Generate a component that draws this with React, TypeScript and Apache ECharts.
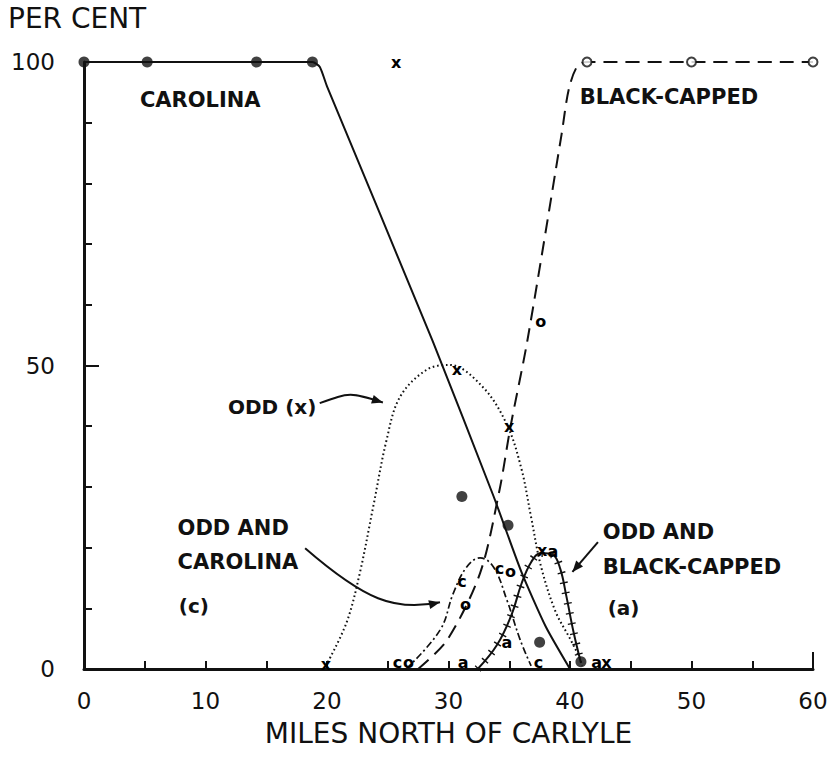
import React, { useEffect, useRef } from 'react';
import * as echarts from 'echarts';

// ---- tick labels ----
const xTickLabels = ['0', '10', '20', '30', '40', '50', '60'];
const yTickLabels = ['0', '50', '100'];

// ---- Carolina (solid line, filled dots) ----
const carolinaDots = [[0, 100], [5.2, 100], [14.2, 100], [18.8, 100], [31.1, 28.4], [34.9, 23.7], [37.5, 4.4], [40.9, 1.2]];
const carolinaCurve = [[0, 100], [18.8, 100], [19.4, 99.2], [20, 96], [28.7, 54], [33.7, 28.5], [36, 16], [38, 7], [40, 0]];

// ---- Black-capped (dashed line, open circles) ----
const blackCappedCircles = [[41.4, 100], [50, 100], [60, 100]];
const blackCappedCurve = [[27.5, 0], [29.9, 4.8], [32.6, 15.8], [34.2, 29.5], [35.1, 39.9], [36.5, 54.2], [39.3, 88], [39.9, 95.5], [40.6, 99.3], [41.4, 100], [50, 100], [60, 100]];

// ---- Odd (x), dotted ----
const oddCurve = [[19.9, 0.5], [21.6, 7.6], [22.7, 15.8], [23.8, 26.7], [24.9, 37.7], [26, 44.8], [28.2, 49.3], [30.1, 50.1], [32.8, 46.5], [34.8, 40.3], [36, 33], [36.8, 25], [37.6, 17], [38.8, 9.5], [40, 5], [40.8, 1.8], [41, 0.5]];
const oddPoints = [[25.7, 100], [19.9, 0.8], [30.7, 49.4], [35.0, 39.9], [37.7, 19.5], [43.0, 1]];

// ---- Odd and Carolina (c), dash-dot ----
const oddCarolinaCurve = [[26.5, 0], [29.3, 6.4], [30.4, 12.5], [31.5, 16.8], [32.6, 18.3], [33.7, 16.8], [34.8, 11.4], [35.9, 4.8], [36.8, 0.5]];
const oddCarolinaPoints = [[31.1, 14.4], [34.2, 16.6], [25.8, 1], [37.4, 1]];

// ---- Black-capped letters (o) ----
const blackCappedLetterPoints = [[31.4, 10.6], [35.1, 16], [26.7, 1], [37.6, 57.2]];

// ---- Odd and Black-capped (a), hatched solid ----
const oddBlackCappedCurve = [[32.4, 0], [34, 4], [35.2, 9], [36, 14], [36.8, 17.6], [37.6, 19.1], [38.6, 18.8], [39.2, 16.5], [39.7, 12], [40.3, 6], [40.9, 1]];
const oddBlackCappedPoints = [[38.6, 19.3], [42.2, 1], [31.2, 1], [34.8, 4.3]];

const FONT = 'DejaVu Sans';
const INK = '#111';

function letterSeries(data: number[][], letter: string) {
  return {
    type: 'scatter',
    data,
    symbolSize: 1,
    itemStyle: { color: 'rgba(0,0,0,0)' },
    z: 5,
    label: {
      show: true,
      position: 'inside',
      formatter: () => letter,
      fontFamily: FONT,
      fontWeight: 'bold',
      fontSize: 16,
      color: '#000',
      opacity: 1,
      textBorderWidth: 0,
      textBorderColor: 'transparent',
      lineHeight: 16,
    },
  };
}

export default function App() {
  const ref = useRef<HTMLDivElement>(null);

  useEffect(() => {
    if (!ref.current) return;
    const chart = echarts.init(ref.current, null, { renderer: 'svg' });

    const option: any = {
      animation: false,
      backgroundColor: '#fff',
      grid: { left: 84, right: 21, top: 62, bottom: 91 },
      xAxis: [
        {
          type: 'value', min: 0, max: 60, interval: 5,
          axisLine: { lineStyle: { color: INK, width: 3 } },
          axisTick: { inside: true, length: 8, lineStyle: { color: INK, width: 2 } },
          splitLine: { show: false },
          axisLabel: {
            color: INK, fontFamily: FONT, fontSize: 23, margin: 20,
            formatter: (v: number) => (xTickLabels.includes(String(v)) ? String(v) : ''),
          },
          name: 'MILES NORTH OF CARLYLE',
          nameLocation: 'middle',
          nameGap: 50,
          nameTextStyle: { color: INK, fontFamily: FONT, fontSize: 28 },
        },
        {
          type: 'value', min: 0, max: 60, interval: 60, position: 'bottom',
          axisLine: { show: false },
          axisTick: { inside: true, length: 17, lineStyle: { color: INK, width: 2 } },
          axisLabel: { show: false },
          splitLine: { show: false },
        },
      ],
      yAxis: [
        {
          type: 'value', min: 0, max: 100, interval: 10,
          axisLine: { show: true, lineStyle: { color: INK, width: 3 } },
          axisTick: { show: true, inside: true, length: 8, lineStyle: { color: INK, width: 2 } },
          splitLine: { show: false },
          axisLabel: {
            color: INK, fontFamily: FONT, fontSize: 23, margin: 29,
            padding: [9, 0, 0, 0],
            formatter: (v: number) => (yTickLabels.includes(String(v)) ? String(v) : ''),
          },
        },
        {
          type: 'value', min: 0, max: 100, interval: 50, position: 'left',
          axisLine: { show: false },
          axisTick: { show: true, inside: true, length: 15, lineStyle: { color: INK, width: 2 } },
          axisLabel: { show: false },
          splitLine: { show: false },
        },
      ],
      series: [
        {
          name: 'Carolina', type: 'line', data: carolinaCurve, symbol: 'none', smooth: 0.2,
          lineStyle: { color: INK, width: 2 }, z: 3,
        },
        {
          name: 'Carolina points', type: 'scatter', data: carolinaDots, symbol: 'circle', symbolSize: 11,
          itemStyle: { color: INK }, z: 4,
        },
        {
          name: 'Black-capped', type: 'line', data: blackCappedCurve, symbol: 'none', smooth: 0.3,
          lineStyle: { color: INK, width: 2, type: [14, 8] }, z: 3,
        },
        {
          name: 'Black-capped points', type: 'scatter', data: blackCappedCircles, symbol: 'circle', symbolSize: 9,
          itemStyle: { color: '#fff', borderColor: INK, borderWidth: 2 }, z: 4,
        },
        {
          name: 'Odd', type: 'line', data: oddCurve, symbol: 'none', smooth: 0.35,
          lineStyle: { color: INK, width: 2, type: [1.6, 2.8] }, z: 3,
        },
        {
          name: 'Odd and Carolina', type: 'line', data: oddCarolinaCurve, symbol: 'none', smooth: 0.4,
          lineStyle: { color: INK, width: 1.7, type: [7, 3, 2, 3] }, z: 3,
        },
        {
          name: 'Odd and Black-capped', type: 'line', data: oddBlackCappedCurve, symbol: 'none', smooth: 0.4,
          lineStyle: { color: INK, width: 2 }, z: 3,
        },
        {
          name: 'Odd and Black-capped hatching', type: 'line', data: oddBlackCappedCurve, symbol: 'none', smooth: 0.4,
          lineStyle: { color: INK, width: 8, type: [1.4, 9] }, z: 3,
        },
        letterSeries(oddPoints, 'x'),
        letterSeries(oddCarolinaPoints, 'c'),
        letterSeries(blackCappedLetterPoints, 'o'),
        letterSeries(oddBlackCappedPoints, 'a'),
      ],
    };

    chart.setOption(option);

    const p = (x: number, y: number) => chart.convertToPixel({ xAxisIndex: 0, yAxisIndex: 0 }, [x, y]) as number[];
    const txt = (x: number, y: number, text: string, size = 21, weight = 'bold') => {
      const [px, py] = p(x, y);
      return {
        type: 'text', x: px, y: py, z: 10,
        style: { text, fontFamily: FONT, fontSize: size, fontWeight: weight, fill: INK, align: 'left', verticalAlign: 'middle' },
      };
    };
    const arrowHead = (from: number[], to: number[]) => {
      const dx = to[0] - from[0];
      const dy = to[1] - from[1];
      const len = Math.hypot(dx, dy) || 1;
      const ux = dx / len, uy = dy / len;
      const L = 11, W = 4.5;
      const bx = to[0] - ux * L, by = to[1] - uy * L;
      return {
        type: 'polygon', z: 10,
        shape: { points: [[to[0], to[1]], [bx - uy * W, by + ux * W], [bx + uy * W, by - ux * W]] },
        style: { fill: INK },
      };
    };

    const a1s = p(19.4, 43.8), a1c = p(21.9, 45.6), a1e = p(24.6, 43.9);
    const a2s = p(18.2, 19.9), a2c1 = p(23.1, 11.4), a2c2 = p(25.6, 9.4), a2e = p(29.3, 11);
    const a3s = p(42.3, 20.9), a3e = p(40.2, 16);

    chart.setOption({
      graphic: [
        {
          type: 'text', left: 8, top: 4, z: 10,
          style: { text: 'PER CENT', fontFamily: FONT, fontSize: 28, fill: INK },
        },
        txt(4.6, 93.7, 'CAROLINA'),
        txt(40.8, 94.2, 'BLACK-CAPPED'),
        txt(11.85, 43.2, 'ODD (x)', 20),
        txt(7.7, 23.2, 'ODD AND'),
        txt(7.7, 17.6, 'CAROLINA'),
        txt(7.8, 10.4, '(c)', 20),
        txt(42.7, 22.6, 'ODD AND'),
        txt(42.7, 16.8, 'BLACK-CAPPED'),
        txt(43.1, 10, '(a)', 20),
        {
          type: 'bezierCurve', z: 10,
          shape: { x1: a1s[0], y1: a1s[1], x2: a1e[0], y2: a1e[1], cpx1: a1c[0], cpy1: a1c[1], cpx2: a1c[0], cpy2: a1c[1] },
          style: { stroke: INK, lineWidth: 2, fill: 'none' },
        },
        arrowHead(a1c, a1e),
        {
          type: 'bezierCurve', z: 10,
          shape: { x1: a2s[0], y1: a2s[1], x2: a2e[0], y2: a2e[1], cpx1: a2c1[0], cpy1: a2c1[1], cpx2: a2c2[0], cpy2: a2c2[1] },
          style: { stroke: INK, lineWidth: 2, fill: 'none' },
        },
        arrowHead(a2c2, a2e),
        {
          type: 'line', z: 10,
          shape: { x1: a3s[0], y1: a3s[1], x2: a3e[0], y2: a3e[1] },
          style: { stroke: INK, lineWidth: 2 },
        },
        arrowHead(a3s, a3e),
      ],
    });

    return () => chart.dispose();
  }, []);

  return <div ref={ref} style={{ width: 834, height: 760, position: 'absolute', left: 0, top: 0 }} />;
}
